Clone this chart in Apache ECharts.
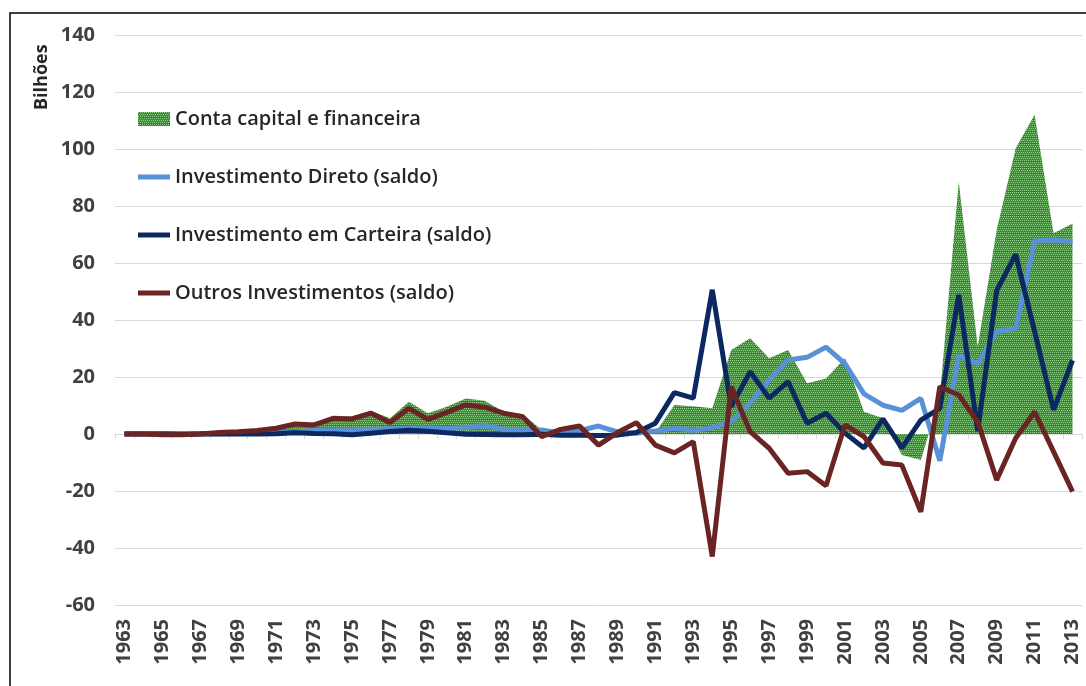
<!DOCTYPE html>
<html>
<head>
<meta charset="utf-8">
<script src="https://cdn.jsdelivr.net/npm/echarts@6/dist/echarts.min.js"></script>
<style>
  html, body { margin: 0; padding: 0; background: #fff; }
  #main { width: 1086px; height: 686px; }
</style>
</head>
<body>
<div id="main"></div>
<script type="text/javascript">
var years = ['1963','1964','1965','1966','1967','1968','1969','1970','1971','1972',
  '1973','1974','1975','1976','1977','1978','1979','1980','1981','1982',
  '1983','1984','1985','1986','1987','1988','1989','1990','1991','1992',
  '1993','1994','1995','1996','1997','1998','1999','2000','2001','2002',
  '2003','2004','2005','2006','2007','2008','2009','2010','2011','2012','2013'];

var yTicks = [-60, -40, -20, 0, 20, 40, 60, 80, 100, 120, 140];

// Bilhões
var contaCapital = [0, 0.1, 0, 0, 0.2, 0.6, 1.0, 1.5, 2.3, 3.8,
  4.0, 6.0, 6.2, 8.2, 5.5, 11.3, 7.3, 9.6, 12.5, 11.7,
  7.8, 6.9, 1.5, 0.5, 1.5, -1.0, 0.5, 0.3, 0.5, 10.2,
  9.7, 9.0, 29.5, 33.6, 26.6, 29.5, 17.8, 19.5, 26.6, 7.8,
  5.5, -7.4, -9.1, 13.1, 88.5, 30.6, 71.6, 100.2, 112, 70.4, 73.9];

var invDireto = [0.1, 0.1, 0.2, 0.1, 0.1, 0.1, 0.2, 0.4, 0.5, 0.7,
  1.2, 1.3, 1.4, 1.6, 1.8, 2.0, 2.1, 1.9, 2.3, 3.0,
  1.6, 1.6, 1.4, 0.3, 1.2, 2.8, 0.7, 0.3, 1.1, 2.0,
  1.3, 2.2, 4.4, 10.8, 18.9, 26.0, 26.9, 30.5, 24.7, 14.1,
  10.1, 8.3, 12.5, -9.4, 27.5, 24.6, 36.0, 36.9, 67.7, 68.1, 67.5];

var invCarteira = [0, 0, 0, -0.1, 0, 0, 0, 0, 0.1, 0.4,
  0.2, 0.1, -0.3, 0.3, 0.9, 1.3, 1.0, 0.4, -0.1, -0.2,
  -0.3, -0.3, -0.1, -0.4, -0.4, -0.5, -0.4, 0.5, 3.8, 14.5,
  12.6, 50.6, 9.6, 21.9, 12.6, 18.4, 3.8, 7.3, 0.3, -4.9,
  5.3, -4.9, 4.9, 9.0, 48.8, 1.1, 50.3, 63.0, 36.0, 8.5, 25.8];

var outrosInv = [0, 0, -0.3, -0.3, 0, 0.5, 0.8, 1.2, 2.0, 3.5,
  3.2, 5.5, 5.3, 7.3, 4.0, 9.0, 5.1, 7.6, 10.2, 9.4,
  7.3, 6.1, -0.9, 1.6, 2.8, -3.9, 0.5, 4.0, -3.9, -6.6,
  -2.7, -43, 16.6, 0.8, -5.0, -13.8, -13.2, -18.2, 3.2, -0.9,
  -10.2, -10.9, -27.3, 16.6, 13.7, 4.3, -16.1, -1.5, 7.8, -6.2, -20.2];

var names = ['Conta capital e financeira', 'Investimento Direto (saldo)',
  'Investimento em Carteira (saldo)', 'Outros Investimentos (saldo)'];

// checker green fill like the excel pattern
var pat = document.createElement('canvas');
pat.width = 4; pat.height = 6;
var pc = pat.getContext('2d');
pc.fillStyle = '#3b9133';
pc.fillRect(0, 0, 4, 6);
pc.fillStyle = '#8fca86';
pc.fillRect(0, 0, 1, 1);
pc.fillRect(2, 0, 1, 1);
pc.fillRect(1, 2, 1, 1);
pc.fillRect(3, 2, 1, 1);
pc.fillRect(0, 4, 1, 1);
pc.fillRect(2, 4, 1, 1);
pc.fillStyle = '#2f8228';
pc.fillRect(0, 5, 4, 1);
var greenFill = { image: pat, repeat: 'repeat' };

var lineIcon = 'path://M0,0H32V5H0Z';
var font = '"Open Sans", "Noto Sans", sans-serif';
var myChart = echarts.init(document.getElementById('main'));
var option = {
    animation: false,
    textStyle: { fontFamily: font },
    grid: { left: 115, right: 4, top: 35, bottom: 81 },
    graphic: [
        {
            type: 'rect', silent: true,
            shape: { x: 10, y: 13, width: 1200, height: 800 },
            style: { fill: 'none', stroke: '#000', lineWidth: 1.5 }
        },
        {
            type: 'text', x: 33, y: 110, rotation: Math.PI / 2,
            style: { text: 'Bilhões', font: 'bold 18px ' + font, fill: '#262626' }
        }
    ],
    legend: {
        orient: 'vertical',
        left: 133, top: 104,
        itemWidth: 32, itemHeight: 14, itemGap: 38,
        textStyle: { fontSize: 20, fontWeight: 600, color: '#262626', fontFamily: font },
        data: [
            { name: names[0], icon: 'rect', itemStyle: { color: greenFill } },
            { name: names[1], icon: lineIcon, itemStyle: { color: '#5891d6' } },
            { name: names[2], icon: lineIcon, itemStyle: { color: '#0c2860' } },
            { name: names[3], icon: lineIcon, itemStyle: { color: '#6b2424' } }
        ]
    },
    xAxis: [
        {
            type: 'category', data: years, boundaryGap: true,
            axisLine: { show: false, onZero: false },
            axisTick: { show: false },
            axisLabel: { interval: 1, rotate: 90, margin: 14, fontSize: 20, fontWeight: 'bold', color: '#404040' }
        },
        {
            type: 'category', data: years, boundaryGap: true, position: 'bottom',
            axisLine: { show: true, onZero: true, lineStyle: { color: '#d9d9d9', width: 1 } },
            axisTick: { show: true, interval: 0, length: 5, lineStyle: { color: '#d9d9d9' } },
            axisLabel: { show: false }
        }
    ],
    yAxis: {
        type: 'value', min: yTicks[0], max: yTicks[yTicks.length - 1], interval: 20,
        axisLine: { show: false }, axisTick: { show: false },
        axisLabel: { margin: 20, fontSize: 20, fontWeight: 'bold', color: '#404040' },
        splitLine: { lineStyle: { color: '#d9d9d9', width: 1 } }
    },
    series: [
        {
            name: names[0], type: 'line', data: contaCapital, symbol: 'none',
            lineStyle: { width: 0 }, itemStyle: { color: '#3b9133' },
            areaStyle: { color: greenFill, opacity: 1 }, z: 1
        },
        {
            name: names[1], type: 'line', data: invDireto, symbol: 'none',
            lineStyle: { width: 5, color: '#5891d6' }, itemStyle: { color: '#5891d6' }, z: 2
        },
        {
            name: names[2], type: 'line', data: invCarteira, symbol: 'none',
            lineStyle: { width: 5, color: '#0c2860' }, itemStyle: { color: '#0c2860' }, z: 3
        },
        {
            name: names[3], type: 'line', data: outrosInv, symbol: 'none',
            lineStyle: { width: 5, color: '#6b2424' }, itemStyle: { color: '#6b2424' }, z: 4
        }
    ]
};
myChart.setOption(option);
</script>
</body>
</html>
